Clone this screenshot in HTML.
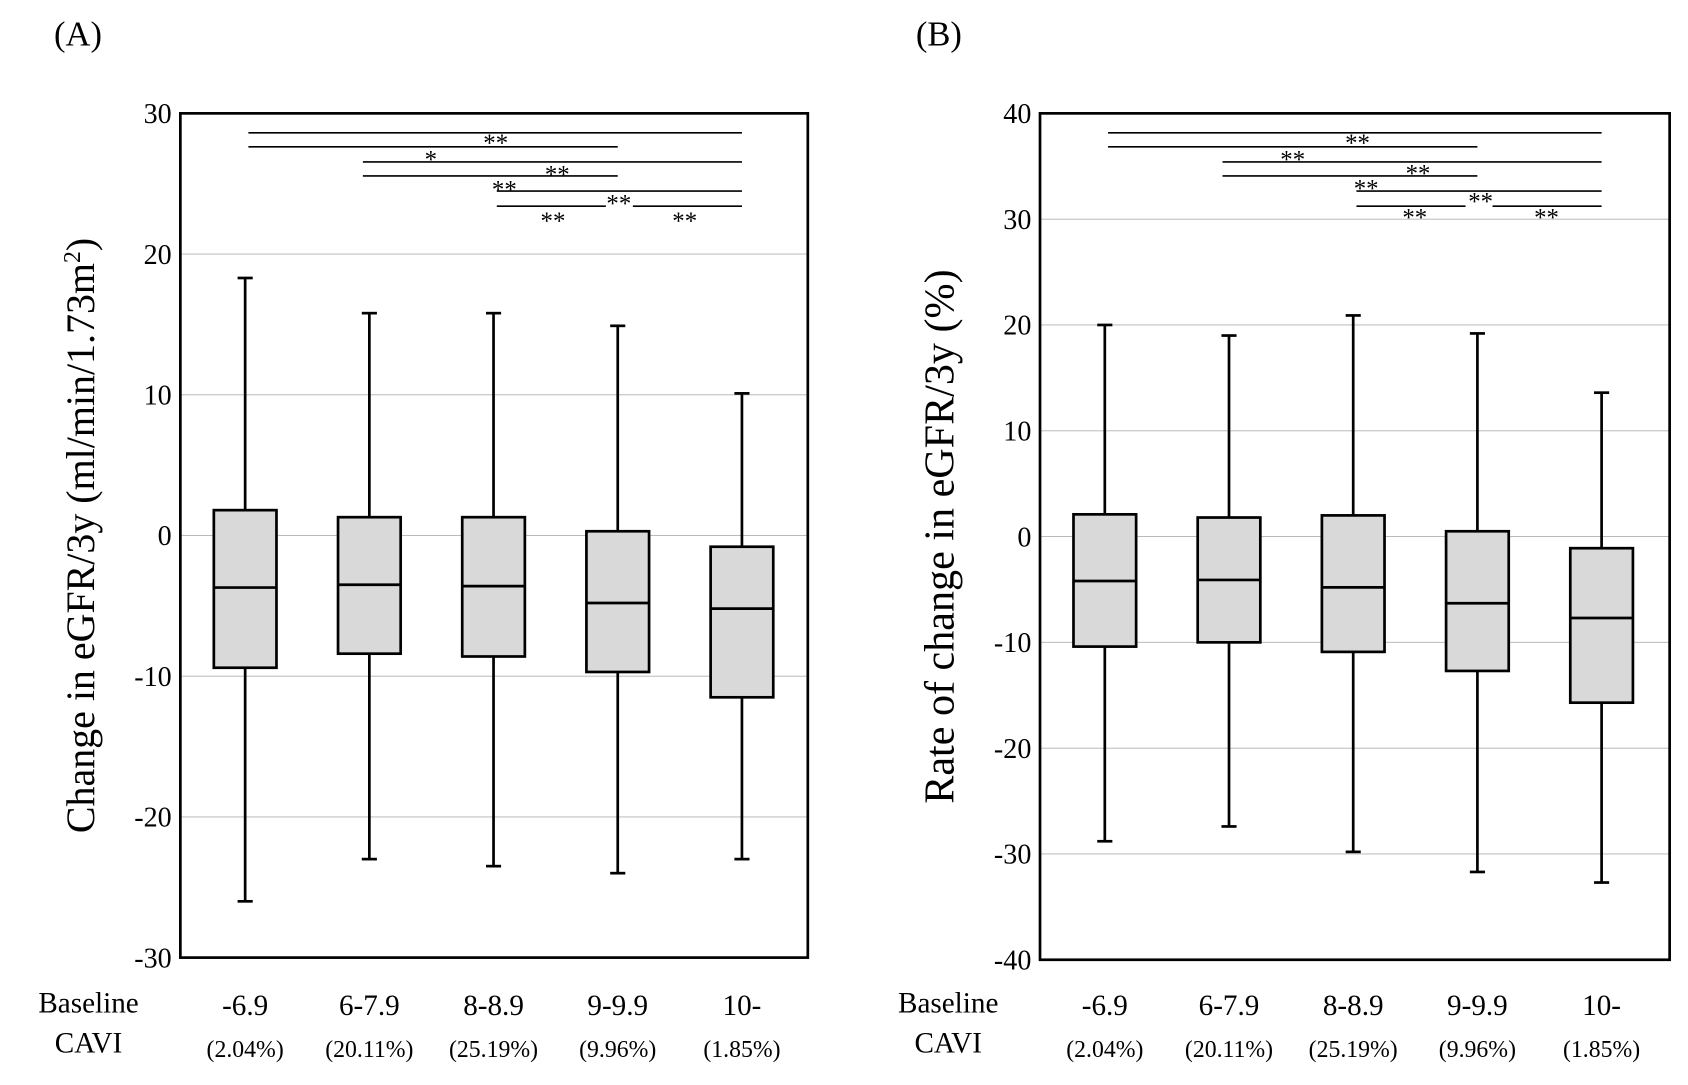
<!DOCTYPE html>
<html><head><meta charset="utf-8"><style>
html,body{margin:0;padding:0;background:#fff;}
svg{display:block;font-family:"Liberation Serif",serif;}
</style></head><body>
<svg id="fig" width="1688" height="1085" viewBox="0 0 1563 1005" preserveAspectRatio="none" xmlns="http://www.w3.org/2000/svg">
<text x="50" y="42" font-size="32">(A)</text>
<text x="848" y="42" font-size="32">(B)</text>
</svg>
<script>
const categories=["-6.9","6-7.9","8-8.9","9-9.9","10-"];
const percents=["(2.04%)","(20.11%)","(25.19%)","(9.96%)","(1.85%)"];
const aMax=[18.3,15.8,15.8,14.9,10.1];
const aQ3=[1.8,1.3,1.3,0.3,-0.8];
const aMed=[-3.7,-3.5,-3.6,-4.8,-5.2];
const aQ1=[-9.4,-8.4,-8.6,-9.7,-11.5];
const aMin=[-26,-23,-23.5,-24,-23];
const aTicks=[30,20,10,0,-10,-20,-30];
const bMax=[20,19,20.9,19.2,13.6];
const bQ3=[2.1,1.8,2.0,0.5,-1.1];
const bMed=[-4.2,-4.1,-4.8,-6.3,-7.7];
const bQ1=[-10.4,-10.0,-10.9,-12.7,-15.7];
const bMin=[-28.8,-27.4,-29.8,-31.7,-32.7];
const bTicks=[40,30,20,10,0,-10,-20,-30,-40];
// significance brackets: [fromIndex, toIndex]
const aSig=[[0,4],[0,3],[1,4],[1,3],[2,4],[2,3],[3,4]];
const bSig=[[0,4],[0,3],[1,4],[1,3],[2,4],[2,3],[3,4]];

const NS="http://www.w3.org/2000/svg";
const svg=document.getElementById('fig');
function el(t,a,p){const e=document.createElementNS(NS,t);for(const k in a)e.setAttribute(k,a[k]);(p||svg).appendChild(e);return e;}
function txt(x,y,s,size,anchor,p){const e=el('text',{x:x,y:y,'font-size':size,'text-anchor':anchor||'middle'},p);e.textContent=s;return e;}

function panel(id,L,R,T,B,ymin,ymax,ticks,mx,q3,md,q1,mn,title,titleSize,sig,starPos){
  const g=el('g',{});
  
  
  const y=v=>B-(v-ymin)/(ymax-ymin)*(B-T);
  const x=i=>L+60+i*115;
  ticks.forEach(t=>{
    const gl=el('line',{x1:L,x2:R,y1:y(t),y2:y(t),stroke:'#b0b0b0','stroke-width':0.8},g);
    
    
    const tl=txt(L-8,y(t)+9,String(t),26,'end',g);
    
    
  });
  const fr=el('rect',{x:L,y:T,width:R-L,height:B-T,fill:'none',stroke:'#000','stroke-width':2.5},g);
  
  
  const w=58,cap=14;
  categories.forEach((c,i)=>{
    const cx=x(i);
    const bg=el('g',{},g);
    
    
    el('line',{x1:cx,x2:cx,y1:y(mx[i]),y2:y(q3[i]),stroke:'#000','stroke-width':2.5},bg);
    el('line',{x1:cx,x2:cx,y1:y(q1[i]),y2:y(mn[i]),stroke:'#000','stroke-width':2.5},bg);
    el('line',{x1:cx-cap/2,x2:cx+cap/2,y1:y(mx[i]),y2:y(mx[i]),stroke:'#000','stroke-width':2.5},bg);
    el('line',{x1:cx-cap/2,x2:cx+cap/2,y1:y(mn[i]),y2:y(mn[i]),stroke:'#000','stroke-width':2.5},bg);
    el('rect',{x:cx-w/2,y:y(q3[i]),width:w,height:y(q1[i])-y(q3[i]),fill:'#d9d9d9',stroke:'#000','stroke-width':2.5},bg);
    el('line',{x1:cx-w/2,x2:cx+w/2,y1:y(md[i]),y2:y(md[i]),stroke:'#000','stroke-width':2.5},bg);
    const cl=txt(cx,940,c,27,'middle',g);
    
    
    const pl=txt(cx,979,percents[i],22,'middle',g);
    
    
  });
  const b1=txt(L-85,938,'Baseline',27,'middle',g);
  
  
  const b2=txt(L-85,975,'CAVI',27,'middle',g);
  
  
  const yt=el('text',{x:0,y:0,'font-size':titleSize,'text-anchor':'middle',transform:`translate(${L-80},${(T+B)/2}) rotate(-90)`},g);
  yt.innerHTML=title;
  
  
  const ys=[123,136,150,163,177,191,191];
  sig.forEach((s,k)=>{
    const yy=ys[k];
    let x1=x(s[0])+3, x2=x(s[1]);
    if(k===2||k===3) x1=x(s[0])-6;
    if(k===5) x2=x(s[1])-11;
    if(k===6) x1=x(s[0])+14;
    const ln=el('line',{x1:x1,x2:x2,y1:yy,y2:yy,stroke:'#000','stroke-width':1.5},g);
    
    
  });
  starPos.forEach(p=>{
    const st=txt(p[0],p[1],p[2],23,'middle',g);
    
    
  });
}
panel('panel-a',167,748,105,887,-30,30,aTicks,aMax,aQ3,aMed,aQ1,aMin,
 'Change in eGFR/3y (ml/min/1.73m<tspan font-size="22" dy="-13">2</tspan><tspan dy="13">)</tspan>',37,aSig,
 [[459,140,'**'],[399,155,'*'],[516,169,'**'],[467,183,'**'],[573,196,'**'],[512,212,'**'],[634,212,'**']]);
panel('panel-b',963,1546,105,889,-40,40,bTicks,bMax,bQ3,bMed,bQ1,bMin,
 'Rate of change in eGFR/3y (%)',39,bSig,
 [[1257,140,'**'],[1197,155,'**'],[1313,168,'**'],[1265,182,'**'],[1371,194,'**'],[1310,209,'**'],[1432,209,'**']]);
</script>
</body></html>
